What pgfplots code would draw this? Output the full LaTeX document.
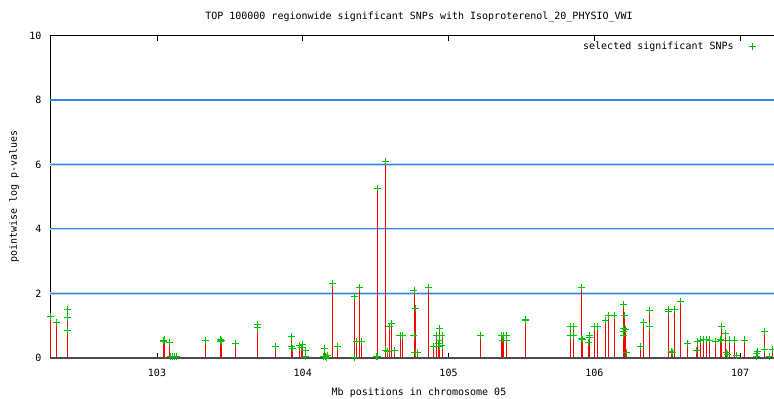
\documentclass[border=0pt]{standalone}
\usepackage{fontspec}
\setmainfont{DejaVu Sans Mono}
\usepackage{pgfplots}
\pgfplotsset{compat=1.18}
\definecolor{snpred}{RGB}{255,0,0}
\definecolor{snpgreen}{RGB}{0,192,0}
\definecolor{gridblue}{RGB}{50,135,230}
\definecolor{gridhalo}{RGB}{185,215,245}
\newcommand{\gfont}{\fontsize{10bp}{12bp}\selectfont}

\pgfplotstableread{
x y
102.270 1.27
102.312 1.10
102.387 1.50
102.387 1.24
102.387 0.86
103.043 0.52
103.048 0.55
103.084 0.47
103.095 0.05
103.105 0.05
103.120 0.05
103.135 0.05
103.332 0.53
103.437 0.57
103.437 0.50
103.440 0.53
103.540 0.45
103.690 1.04
103.690 0.93
103.813 0.34
103.924 0.65
103.924 0.34
103.930 0.30
103.980 0.37
103.990 0.33
103.995 0.40
104.020 0.21
104.020 0.03
104.150 0.29
104.140 0.03
104.155 0.05
104.160 0.02
104.170 0.06
104.203 2.31
104.237 0.36
104.352 1.90
104.352 0.01
104.370 0.50
104.386 2.19
104.400 0.50
104.505 0.03
104.510 5.26
104.513 0.05
104.566 6.09
104.570 0.24
104.580 0.20
104.593 0.96
104.610 1.05
104.627 0.21
104.667 0.68
104.685 0.68
104.763 2.08
104.763 0.70
104.775 1.52
104.770 0.16
104.785 0.16
104.860 2.19
104.900 0.36
104.920 0.70
104.935 0.91
104.935 0.55
104.930 0.45
104.940 0.36
104.955 0.70
104.955 0.38
105.220 0.70
105.365 0.70
105.370 0.55
105.380 0.70
105.395 0.70
105.395 0.55
105.530 1.19
105.530 1.15
105.835 0.96
105.835 0.68
105.857 0.96
105.857 0.68
105.910 2.19
105.910 0.60
105.920 0.58
105.960 0.47
105.970 0.70
105.970 0.63
106.000 0.96
106.020 0.96
106.080 1.17
106.100 1.30
106.135 1.30
106.200 1.66
106.210 1.30
106.200 0.91
106.200 0.81
106.200 0.68
106.215 0.87
106.220 0.16
106.320 0.34
106.340 1.10
106.380 1.46
106.380 0.96
106.510 1.50
106.510 1.43
106.530 0.20
106.535 0.15
106.550 1.50
106.590 1.74
106.640 0.45
106.700 0.21
106.710 0.50
106.730 0.55
106.750 0.58
106.770 0.58
106.790 0.55
106.830 0.50
106.865 0.58
106.870 0.98
106.875 0.55
106.900 0.74
106.905 0.16
106.915 0.10
106.930 0.55
106.960 0.55
106.975 0.08
107.030 0.55
107.110 0.12
107.115 0.05
107.120 0.20
107.170 0.81
107.170 0.26
107.200 0.05
107.220 0.26
}\snps

\begin{document}
\begin{tikzpicture}
\begin{axis}[
  at={(0bp,0bp)}, anchor=south west,
  scale only axis,
  width=738bp, height=322bp,
  xmin=102.266, xmax=107.329,
  ymin=0, ymax=10,
  xtick={103,104,105,106,107},
  ytick={0,2,4,6,8,10},
  tick align=inside,
  major tick length=5bp,
  ytick style={draw=none},
  xtick style={black, line width=0.8bp},
  axis line style={black, line width=0.9bp},
  clip=false,
  /pgf/number format/assume math mode=true,
  xticklabel style={font=\gfont, yshift=-8bp},
  yticklabel style={font=\gfont, xshift=-5bp},
  title={TOP 100000 regionwide significant SNPs with Isoproterenol\_20\_PHYSIO\_VWI},
  title style={font=\gfont, at={(axis description cs:0.5,1)}, anchor=center, yshift=12.7bp},
  xlabel={Mb positions in chromosome 05},
  ylabel={pointwise log p-values},
  every axis x label/.style={at={(axis description cs:0.5,0)}, anchor=center, yshift=-35bp, font=\gfont},
  every axis y label/.style={at={(axis description cs:0,0.5)}, anchor=center, rotate=90, yshift=36bp, font=\gfont},
  legend plot pos=right,
  legend style={draw=none, fill=none, font=\gfont, at={(rel axis cs:0.9605,0.968)}, anchor=east},
]
\foreach \g in {2,4,6,8}{
  \edef\tmp{\noexpand\draw[gridhalo, line width=2.6bp] (axis cs:102.266,\g) -- (axis cs:107.329,\g);
    \noexpand\draw[gridblue, line width=1.2bp] (axis cs:102.266,\g) -- (axis cs:107.329,\g);}
  \tmp
}
\addplot[ycomb, draw=snpred, line width=0.9bp, forget plot] table[x=x,y=y] {\snps};
\addplot[only marks, mark=+, mark size=3.5bp, snpgreen, mark options={line width=0.9bp}] table[x=x,y=y] {\snps};
\addlegendentry{selected significant SNPs\kern13bp\null}
\draw[black!70, line width=1.6bp] (rel axis cs:0,0) -- (rel axis cs:1,0);
\end{axis}
\pgfresetboundingbox
\path (-50bp,-41.3bp) rectangle (724bp,357.7bp);
\end{tikzpicture}
\end{document}
